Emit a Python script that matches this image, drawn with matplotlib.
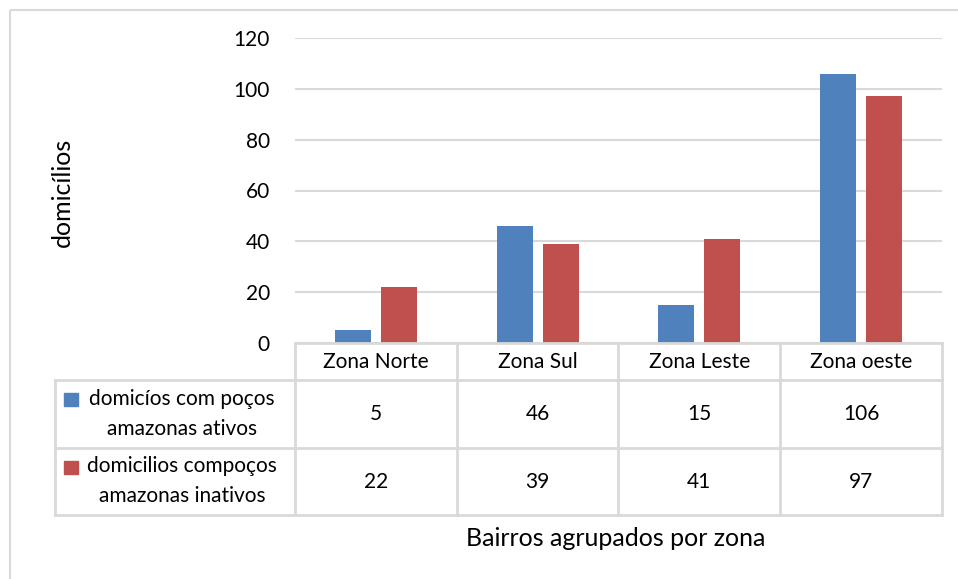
import matplotlib.pyplot as plt
from matplotlib.patches import Rectangle
import numpy as np

plt.rcParams['font.family'] = ['Lato', 'DejaVu Sans']

zonas = ['Zona Norte', 'Zona Sul', 'Zona Leste', 'Zona oeste']
ativos = [5, 46, 15, 106]
inativos = [22, 39, 41, 97]
series_names = [['domicíos com poços', 'amazonas ativos'],
                ['domicilios compoços', 'amazonas inativos']]
yticks = [0, 20, 40, 60, 80, 100, 120]

BLUE = '#4F81BD'
RED = '#C0504D'
GRID = '#D9D9D9'
TXT = '#000000'

W, H = 958, 579
fig = plt.figure(figsize=(W / 100, H / 100), dpi=100)

# plot area in pixels
left, right, top, bottom = 295, 942, 38, 343


def fx(px):
    return px / W


def fy(py):
    return 1 - py / H


ax = fig.add_axes([fx(left), fy(bottom), fx(right - left), fy(top) - fy(bottom)])
x = np.arange(len(zonas)) + 0.5
bw = 0.222
off = 0.142
ax.bar(x - off, ativos, bw, color=BLUE, zorder=3)
ax.bar(x + off, inativos, bw, color=RED, zorder=3)
ax.set_xlim(0, len(zonas))
ax.set_ylim(0, 120)
ax.set_yticks(yticks)
ax.set_yticklabels([str(t) for t in yticks], fontsize=15, color=TXT)
ax.tick_params(axis='y', length=0, pad=18)
ax.set_xticks([])
for s in ax.spines.values():
    s.set_visible(False)
ax.grid(axis='y', color=GRID, lw=1.5, zorder=0)
ax.set_axisbelow(True)

# overlay in pixel coordinates for frame and data table
ov = fig.add_axes([0, 0, 1, 1], facecolor='none')
ov.set_xlim(0, W)
ov.set_ylim(H, 0)
ov.axis('off')

# chart frame (right and bottom edges fall outside the image)
ov.add_patch(Rectangle((10, 10), 970, 600, fill=False, ec=GRID, lw=1.5))

col_edges = [left + i * (right - left) / len(zonas) for i in range(len(zonas) + 1)]
row_edges = [343, 380, 448, 515]
tleft = 55
lw = 2

# horizontal lines
ov.plot([col_edges[0], col_edges[-1]], [row_edges[0]] * 2, color=GRID, lw=lw)
for yy in row_edges[1:]:
    ov.plot([tleft, col_edges[-1]], [yy] * 2, color=GRID, lw=lw)
# vertical lines
ov.plot([tleft, tleft], [row_edges[1], row_edges[-1]], color=GRID, lw=lw)
for xx in col_edges:
    ov.plot([xx, xx], [row_edges[0], row_edges[-1]], color=GRID, lw=lw)

fs = 15
for i, z in enumerate(zonas):
    cx = (col_edges[i] + col_edges[i + 1]) / 2
    ov.text(cx, 362, z, ha='center', va='center', fontsize=fs, color=TXT)
    ov.text(cx, 414, str(ativos[i]), ha='center', va='center', fontsize=fs, color=TXT)
    ov.text(cx, 482, str(inativos[i]), ha='center', va='center', fontsize=fs, color=TXT)

for j, (lines, c) in enumerate(zip(series_names, [BLUE, RED])):
    ymid = (row_edges[j + 1] + row_edges[j + 2]) / 2
    ov.text(182, ymid - 15, lines[0], ha='center', va='center', fontsize=fs, color=TXT)
    ov.text(182, ymid + 15, lines[1], ha='center', va='center', fontsize=fs, color=TXT)
    ov.add_patch(Rectangle((64, ymid - 21), 14, 13, color=c))

ov.text(616, 538, 'Bairros agrupados por zona', ha='center', va='center',
        fontsize=18, color=TXT)
ov.text(62, 192, 'domicílios', ha='center', va='center', rotation=90,
        fontsize=18, color=TXT)

fig.savefig('out.png', dpi=100)
